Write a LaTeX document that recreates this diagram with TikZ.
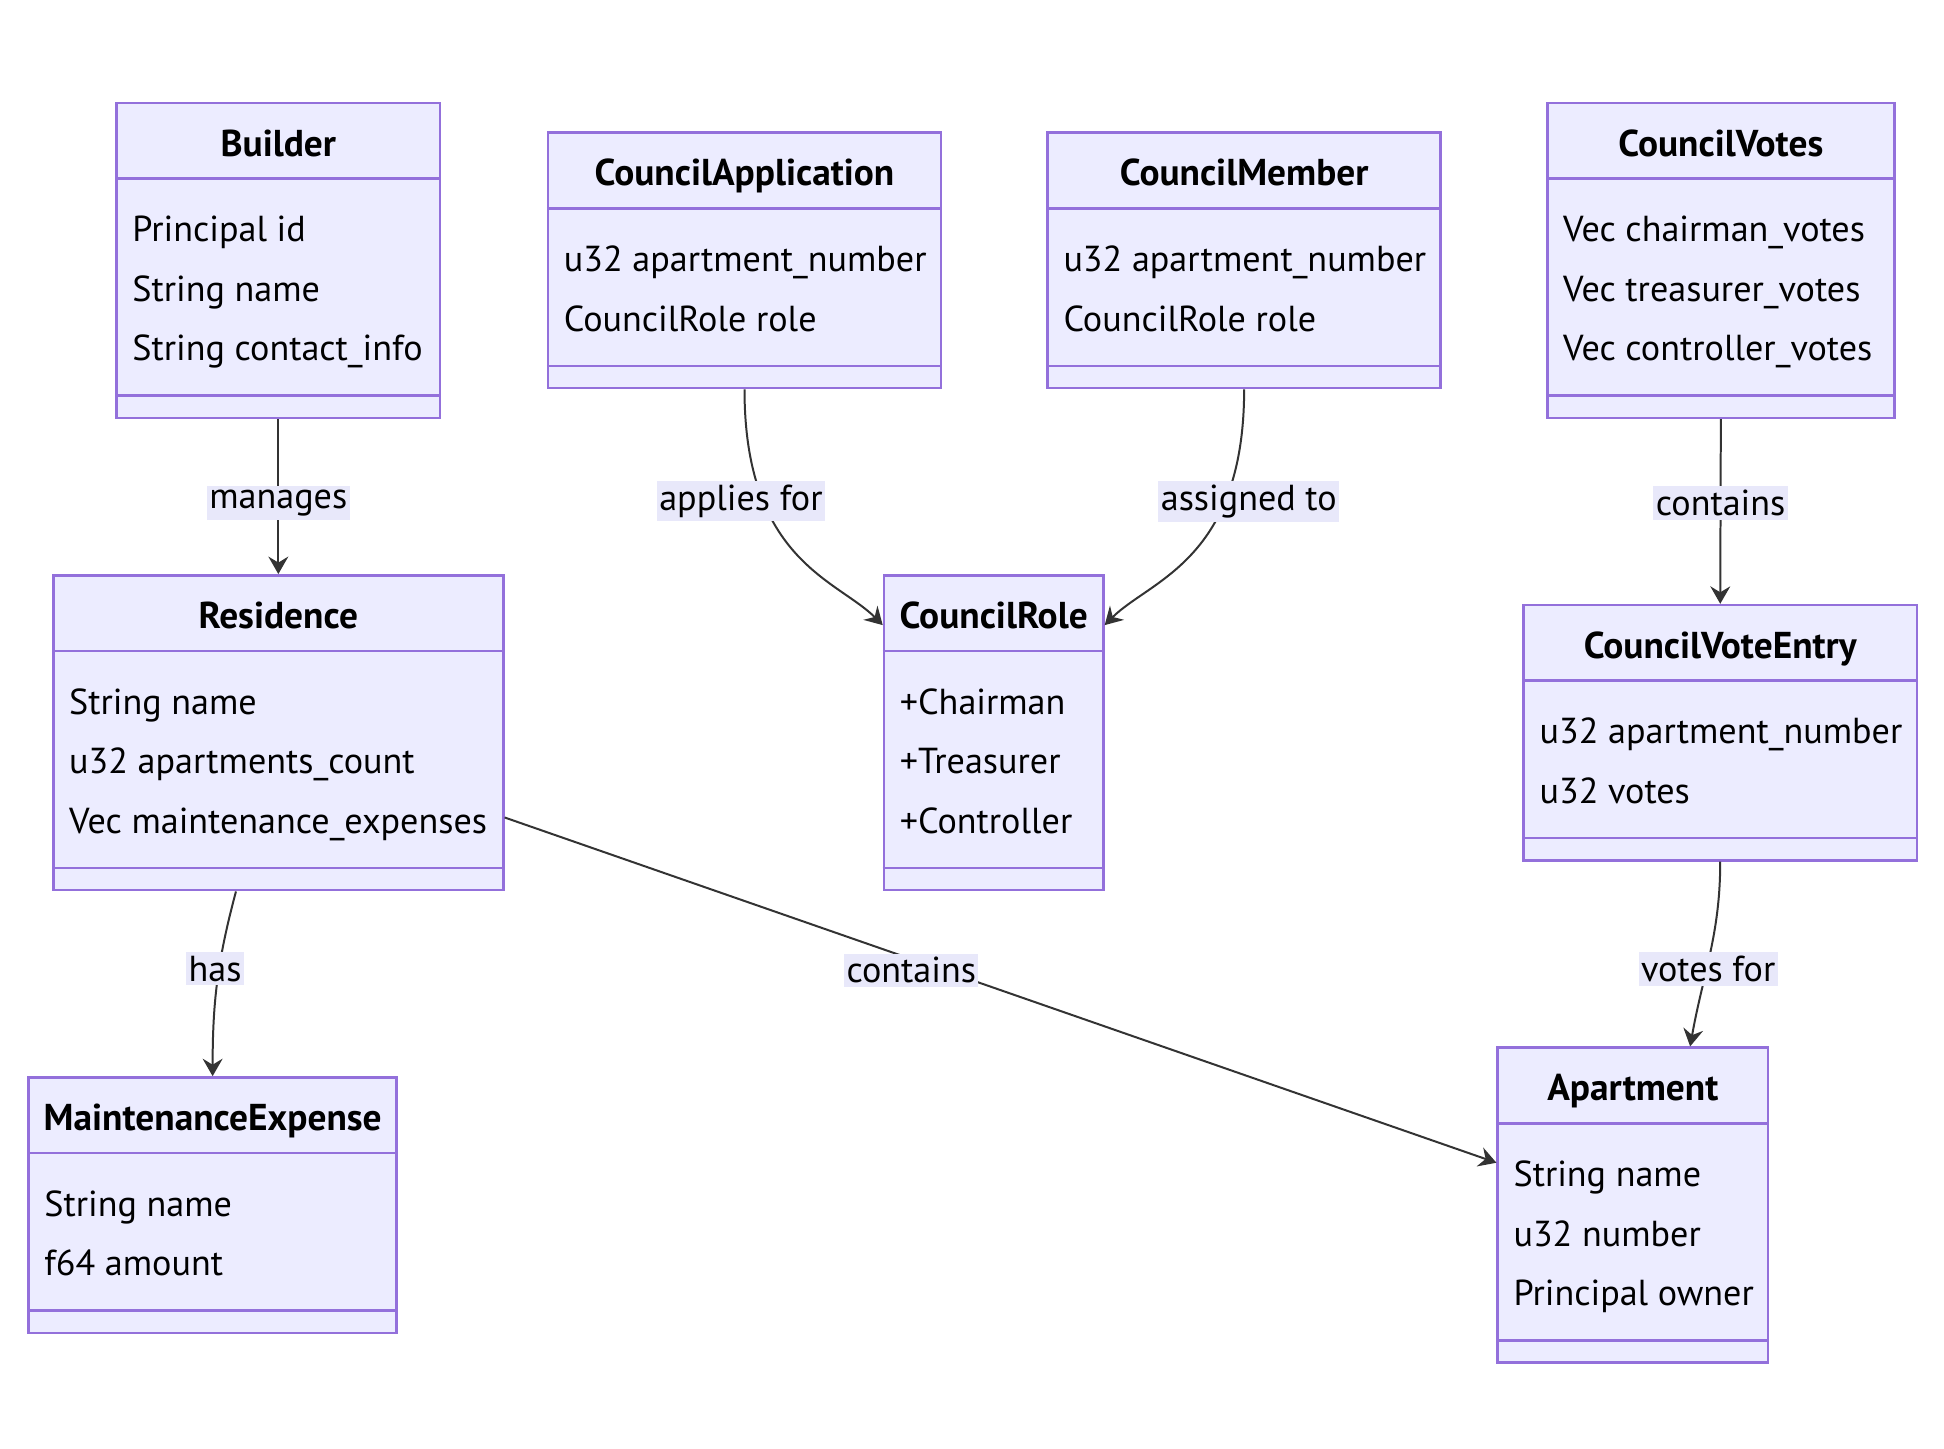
\documentclass[tikz,border=0pt]{standalone}
\usepackage{fontspec}
\setmainfont{PT Sans}
\usetikzlibrary{arrows.meta,calc,fit}

\definecolor{classfill}{HTML}{ECECFF}
\definecolor{classline}{HTML}{9370DB}
\definecolor{edgeline}{HTML}{333333}
\definecolor{labelfill}{RGB}{232,232,250}

% one class box: name, left, top, right, bottom, title, attributes
\newcommand{\umlclass}[7]{%
    \node[classbox, fit={(#2,#3) (#4,#5)}] (#1) {};
    \node[classtitle] (#1-title) at ($(#1.north)+(0,44)$) {#6};
    \draw[classrule] ($(#1.north west)+(0,62)$) -- ($(#1.north east)+(0,62)$);
    \draw[classrule] ($(#1.south west)+(0,-19)$) -- ($(#1.south east)+(0,-19)$);
    \foreach \attr [count=\i] in {#7}
        \node[classattr] (#1-a\i) at ($(#1.north west)+(13,65+48*\i)$) {\attr};
}

\begin{document}
\begin{tikzpicture}[
    x = 0.4975pt, y = -0.4975pt, % pixel grid, y pointing down
    > = {Stealth[length=7pt, width=8pt, inset=2.4pt]}, % arrow head style
    line width = 0.8pt % line style
    ]

    \tikzset{
    classbox/.style = {draw = classline, fill = classfill, line width = 1pt, inner sep = 0pt},
    classrule/.style = {draw = classline, line width = 1pt},
    classtitle/.style = {font = \fontsize{15}{18}\selectfont\bfseries, anchor = base, inner sep = 0pt},
    classattr/.style = {font = \fontsize{14.5}{17}\selectfont, anchor = base west, inner sep = 0pt},
    lbl/.style = {font = \fontsize{14.5}{17}\selectfont, fill = labelfill, inner xsep = 1pt, inner ysep = 1.5pt, yshift = -2.5pt},
    rel/.style = {draw = edgeline}
    }

    \useasboundingbox (0,0) rectangle (1568,1168);

    \umlclass{builder}{94}{83}{355}{337}{Builder}{Principal id, String name, String contact\_info}
    \umlclass{capp}{442}{107}{759}{313}{CouncilApplication}{u32 apartment\_number, CouncilRole role}
    \umlclass{cmember}{845}{107}{1162}{313}{CouncilMember}{u32 apartment\_number, CouncilRole role}
    \umlclass{cvotes}{1248}{83}{1528}{337}{CouncilVotes}{Vec chairman\_votes, Vec treasurer\_votes, Vec controller\_votes}
    \umlclass{residence}{43}{464}{406}{718}{Residence}{String name, u32 apartments\_count, Vec maintenance\_expenses}
    \umlclass{crole}{713}{464}{890}{718}{CouncilRole}{+Chairman, +Treasurer, +Controller}
    \umlclass{centry}{1229}{488}{1546}{694}{CouncilVoteEntry}{u32 apartment\_number, u32 votes}
    \umlclass{maint}{23}{869}{320}{1075}{MaintenanceExpense}{String name, f64 amount}
    \umlclass{apartment}{1208}{845}{1426}{1099}{Apartment}{String name, u32 number, Principal owner}

    \path[->] (builder.south) edge[rel] node[lbl]{manages} (residence.north);
    \path[->] (capp.south) edge[rel, out=-90, in=135, out looseness=1.6, in looseness=0.6]
        node[lbl, pos=0.26, xshift=-8pt]{applies for} ([yshift=-20.5pt]crole.north west);
    \path[->] (cmember.south) edge[rel, out=-90, in=45, out looseness=1.6, in looseness=0.6]
        node[lbl, pos=0.26, xshift=8.5pt]{assigned to} ([yshift=-20.5pt]crole.north east);
    \path[->] (cvotes.south) edge[rel] node[lbl, pos=0.42]{contains} (centry.north);
    \path[->] (centry.south) edge[rel, out=-90, in=80] node[lbl, pos=0.55]{votes for} ([xshift=23pt]apartment.north);
    \path[->] ([xshift=-17pt]residence.south) edge[rel, out=-105, in=90] node[lbl, pos=0.38, xshift=-2pt]{has} (maint.north);
    \path[->] ([yshift=-34pt]residence.east) edge[rel] node[lbl, pos=0.41, yshift=-2pt]{contains} ([yshift=17pt]apartment.west);
\end{tikzpicture}
\end{document}
